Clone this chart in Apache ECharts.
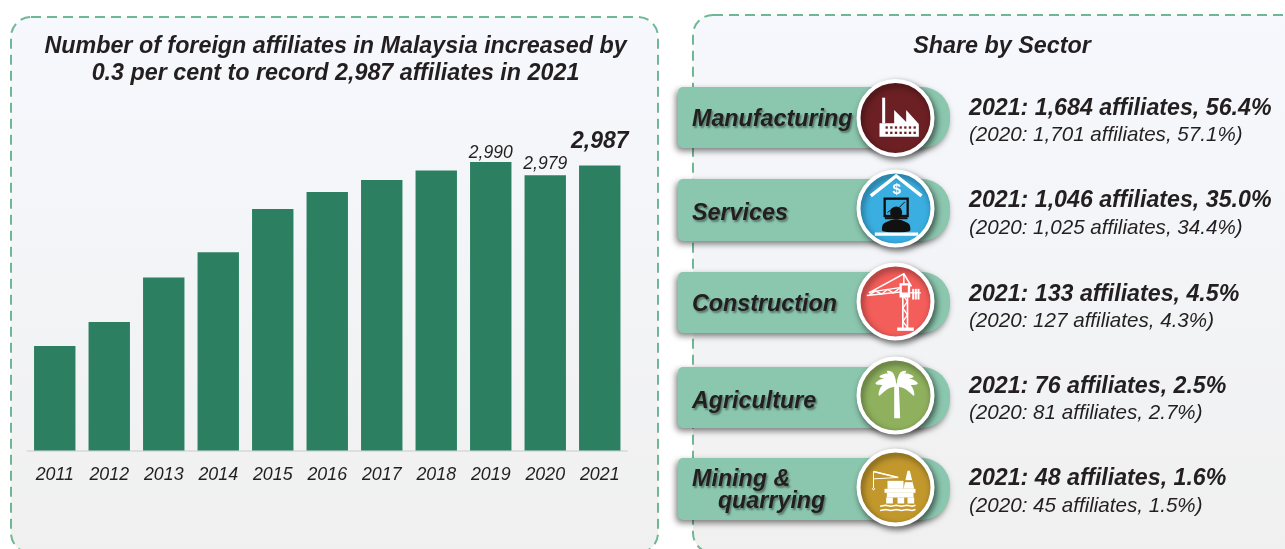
<!DOCTYPE html>
<html>
<head>
<meta charset="utf-8">
<title>Foreign affiliates in Malaysia</title>
<script src="https://cdn.jsdelivr.net/npm/echarts@6/dist/echarts.min.js"></script>
<style>
html, body { margin: 0; padding: 0; background: #fff; }
#chart { width: 1285px; height: 549px; }
</style>
</head>
<body>
<div id="chart"></div>
<script>
var years = ['2011', '2012', '2013', '2014', '2015', '2016', '2017', '2018', '2019', '2020', '2021'];
var affiliates = [2837, 2857, 2894, 2915, 2951, 2965, 2975, 2983, 2990, 2979, 2987];

var sectorNames = ['Manufacturing', 'Services', 'Construction', 'Agriculture', 'Mining &\n    quarrying'];
var count2021 = [1684, 1046, 133, 76, 48];
var share2021 = [56.4, 35.0, 4.5, 2.5, 1.6];
var count2020 = [1701, 1025, 127, 81, 45];
var share2020 = [57.1, 34.4, 4.3, 2.7, 1.5];

var FONT = '"Liberation Sans", Arial, sans-serif';
var INK = '#231f20';
var pillTops = [87, 179, 272, 367, 458];
var pillHeights = [61, 62, 61, 61, 62];
var labelY = [120, 214, 305, 402, 491];
var circleY = [118, 208.5, 301.5, 395.5, 487.5];
var circleColors = ['#6c2023', '#3aaee0', '#f35d5a', '#8fb05d', '#c2982c'];
var textY = [109, 201, 295, 387, 479];
var textY2 = [135, 228, 321, 413, 506];

function fmt(n) {
    return n.toLocaleString('en-US');
}

function panel(x, y, w, h) {
    return {
        type: 'rect',
        z: 0,
        shape: { x: x, y: y, width: w, height: h, r: 20 },
        style: {
            fill: new echarts.graphic.LinearGradient(0, 0, 0, 1, [
                { offset: 0, color: '#f6f8fd' },
                { offset: 1, color: '#f0f0f0' }
            ]),
            stroke: '#6fb795',
            lineWidth: 2,
            lineDash: [10, 6]
        }
    };
}

// icon helpers, units are 1/3 px around the circle centre
function box(x1, y1, x2, y2, color) {
    return { type: 'rect', z: 5, shape: { x: x1, y: y1, width: x2 - x1, height: y2 - y1 }, style: { fill: color || '#fff' } };
}
function poly(points, color, smooth) {
    return { type: 'polygon', z: 5, shape: { points: points, smooth: smooth || 0 }, style: { fill: color || '#fff' } };
}
function wire(points, width, color) {
    return { type: 'polyline', z: 5, shape: { points: points }, style: { stroke: color || '#fff', lineWidth: width, fill: null } };
}

function factoryIcon() {
    var parts = [
        box(-40, -61, -31, 16),
        poly([[-48, 16], [-4, 16], [-4, -24], [32, 12], [32, -24], [70, 18], [70, 56], [-48, 56]])
    ];
    [28, 44].forEach(function (y) {
        for (var x = -30; x < 55; x += 14) {
            parts.push(box(x, y - 3, x + 7, y + 4, circleColors[0]));
        }
    });
    return parts;
}

function servicesIcon() {
    return [
        wire([[-74, -38], [2, -98], [78, -38]], 10),
        { type: 'text', z: 5, style: { text: '$', x: 4, y: -56, fill: '#fff', font: 'bold 46px ' + FONT, textAlign: 'center', textVerticalAlign: 'middle' } },
        box(-36, -33, 40, 26, '#111'),
        box(-29, -26, 33, 19, '#3aaee0'),
        wire([[-24, 12], [-8, 0], [4, 4], [28, -20]], 3, '#111'),
        { type: 'circle', z: 5, shape: { cx: 2, cy: 12, r: 18 }, style: { fill: '#111' } },
        box(-32, 26, 36, 32, '#111'),
        poly([[-38, 68], [-36, 46], [2, 32], [40, 46], [42, 68]], '#111', 0.3),
        box(-62, 72, 68, 82)
    ];
}

function craneIcon() {
    return [
        wire([[22, -28], [22, 80]], 5),
        wire([[36, -28], [36, 80]], 5),
        wire([[22, -20], [36, 0], [22, 20], [36, 40], [22, 60], [36, 78]], 4),
        box(5, 78, 55, 88),
        wire([[-86, -18], [28, -30]], 5),
        wire([[-78, -28], [28, -44]], 4),
        wire([[-78, -20], [-60, -32], [-42, -22], [-24, -36], [-6, -26], [12, -40]], 4),
        wire([[-80, -26], [25, -83], [48, -45]], 4.5),
        wire([[25, -83], [25, -50]], 4.5),
        box(12, -55, 44, -12),
        box(19, -48, 37, -27, circleColors[2]),
        box(50, -38, 56, -6),
        box(58, -38, 64, -6),
        box(66, -38, 72, -6),
        wire([[44, -26], [76, -26]], 4)
    ];
}

function palmIcon() {
    var c = [3, -30];
    return [
        poly([[-4, -30], [10, -30], [14, 68], [-4, 68]]),
        poly([c, [-18, -54], [-60, -36], [-20, -30]], '#fff', 0.5),
        poly([c, [-14, -64], [-48, -56], [-10, -44]], '#fff', 0.5),
        poly([c, [-8, -68], [-26, -72], [-3, -46]], '#fff', 0.5),
        poly([c, [-32, -38], [-50, 0], [-22, -20]], '#fff', 0.5),
        poly([c, [24, -54], [67, -36], [26, -30]], '#fff', 0.5),
        poly([c, [20, -64], [54, -56], [16, -44]], '#fff', 0.5),
        poly([c, [14, -68], [32, -72], [9, -46]], '#fff', 0.5),
        poly([c, [38, -38], [56, 0], [28, -20]], '#fff', 0.5)
    ];
}

function rigIcon() {
    var parts = [
        box(-33, 4, 60, 16),
        box(-26, 16, 54, 30),
        box(-28, 30, -8, 48),
        box(6, 30, 26, 48),
        box(36, 30, 56, 48),
        box(-24, -20, 24, 4),
        wire([[-66, -48], [8, -30]], 5),
        wire([[-66, -26], [8, -30], [-66, -48]], 3),
        wire([[-66, -48], [-66, 2]], 3),
        wire([[-70, 2], [-66, 8], [-62, 2]], 3),
        poly([[36, -50], [43, -50], [56, 4], [24, 4]]),
        box(28, -22, 51, -16, circleColors[4])
    ];
    [56, 69].forEach(function (y) {
        parts.push(wire([[-46, y], [-30, y - 3], [-14, y], [2, y - 3], [18, y], [34, y - 3], [50, y], [60, y - 3]], 4.5));
    });
    return parts;
}

var iconBuilders = [factoryIcon, servicesIcon, craneIcon, palmIcon, rigIcon];

var graphics = [
    panel(11, 17, 647, 536),
    panel(693, 15, 620, 538)
];

sectorNames.forEach(function (name, i) {
    graphics.push({
        type: 'rect',
        z: 1,
        shape: { x: 678, y: pillTops[i], width: 272, height: pillHeights[i], r: [5, 28, 28, 5] },
        style: {
            fill: '#8bc6ae',
            shadowColor: 'rgba(0,0,0,0.5)',
            shadowBlur: 6,
            shadowOffsetX: -2,
            shadowOffsetY: 3
        }
    });
    graphics.push({
        type: 'text',
        z: 3,
        x: 692,
        y: labelY[i],
        style: {
            text: name,
            fill: INK,
            font: 'italic bold 23.3px ' + FONT,
            lineHeight: 22,
            textAlign: 'left',
            textVerticalAlign: 'middle',
            textShadowColor: 'rgba(0,0,0,0.4)',
            textShadowBlur: 2,
            textShadowOffsetX: 1.5,
            textShadowOffsetY: 1.5
        }
    });
    graphics.push({
        type: 'circle',
        z: 4,
        shape: { cx: 895.5, cy: circleY[i], r: 37 },
        style: {
            fill: circleColors[i],
            stroke: '#fff',
            lineWidth: 4,
            shadowColor: 'rgba(0,0,0,0.5)',
            shadowBlur: 6,
            shadowOffsetX: 2,
            shadowOffsetY: 3
        }
    });
    graphics.push({
        type: 'group',
        z: 5,
        x: 895.5,
        y: circleY[i],
        scaleX: 1 / 3,
        scaleY: 1 / 3,
        children: iconBuilders[i]()
    });
    graphics.push({
        type: 'text',
        z: 3,
        x: 969,
        y: textY[i],
        style: {
            text: '2021: ' + fmt(count2021[i]) + ' affiliates, ' + share2021[i].toFixed(1) + '%',
            fill: INK,
            font: 'italic bold 23.2px ' + FONT,
            textVerticalAlign: 'middle'
        }
    });
    graphics.push({
        type: 'text',
        z: 3,
        x: 969,
        y: textY2[i],
        style: {
            text: '(2020: ' + fmt(count2020[i]) + ' affiliates, ' + share2020[i].toFixed(1) + '%)',
            fill: INK,
            font: 'italic 20.6px ' + FONT,
            textVerticalAlign: 'middle'
        }
    });
});

var labelGaps = { 8: 0, 9: 2, 10: 12 };
var barData = affiliates.map(function (v, i) {
    var item = { value: v };
    if (i >= 8) {
        var last = i === affiliates.length - 1;
        item.label = {
            show: true,
            position: 'top',
            distance: labelGaps[i],
            formatter: fmt(v),
            color: INK,
            fontFamily: FONT,
            fontStyle: 'italic',
            fontWeight: last ? 'bold' : 'normal',
            fontSize: last ? 23 : 17.5
        };
    }
    return item;
});

var myChart = echarts.init(document.getElementById('chart'));
myChart.setOption({
    animation: false,
    backgroundColor: '#fff',
    title: [
        {
            text: 'Number of foreign affiliates in Malaysia increased by\n0.3 per cent to record 2,987 affiliates in 2021',
            left: 330.5,
            top: 28,
            textAlign: 'center',
            z: 6,
            textStyle: { fontFamily: FONT, fontStyle: 'italic', fontWeight: 'bold', fontSize: 23.3, lineHeight: 27, color: INK }
        },
        {
            text: 'Share by Sector',
            left: 997,
            top: 30,
            textAlign: 'center',
            z: 6,
            textStyle: { fontFamily: FONT, fontStyle: 'italic', fontWeight: 'bold', fontSize: 23.3, color: INK }
        }
    ],
    grid: { left: 27.5, width: 599.5, top: 162, height: 288.5 },
    xAxis: {
        type: 'category',
        data: years,
        axisTick: { show: false },
        axisLine: { lineStyle: { color: '#dcdfdf', width: 2 } },
        axisLabel: { color: INK, fontFamily: FONT, fontStyle: 'italic', fontSize: 17.8, margin: 16 }
    },
    yAxis: {
        type: 'value',
        min: 2750,
        max: 2990,
        show: false
    },
    series: [
        {
            type: 'bar',
            barWidth: '76%',
            z: 2,
            itemStyle: { color: '#2c8061' },
            data: barData
        }
    ],
    graphic: { elements: graphics }
});

window.addEventListener('resize', function () {
    myChart.resize();
});
</script>
</body>
</html>
